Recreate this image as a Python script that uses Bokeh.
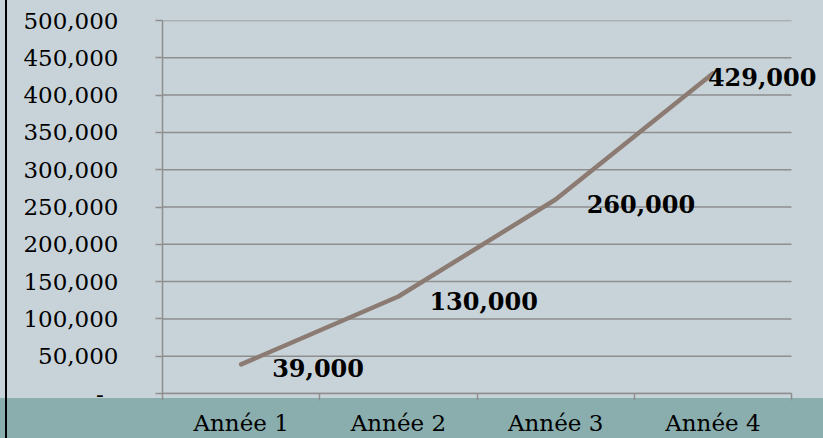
from bokeh.plotting import figure
from bokeh.models import FixedTicker, Range1d, Label
from bokeh.embed import file_html
from bokeh.resources import INLINE

# ---- data ----
categories = ["Année 1", "Année 2", "Année 3", "Année 4"]
values = [39000, 130000, 260000, 429000]
value_labels = ["39,000", "130,000", "260,000", "429,000"]
y_ticks = [0, 50000, 100000, 150000, 200000, 250000, 300000, 350000, 400000, 450000, 500000]
y_tick_labels = ["-\u00a0\u00a0", "50,000", "100,000", "150,000", "200,000", "250,000",
                 "300,000", "350,000", "400,000", "450,000", "500,000"]

# ---- style / layout ----
W, H = 823, 438
BG = "#c8d3d9"
TEAL = "#8aaeae"
GRID = "#8e8e8e"
LINE = "#8b7b72"
FONT = "DejaVu Serif"

PLOT_LEFT, PLOT_RIGHT, PLOT_TOP, PLOT_BOTTOM = 162, 791, 20, 393
BAND_TOP = 398

n = len(categories)
xs = [i + 0.5 for i in range(n)]
bounds = list(range(n + 1))
# frame runs to the right edge so the last data label is not clipped
x_end = n * (W - PLOT_LEFT) / (PLOT_RIGHT - PLOT_LEFT)

p = figure(width=W, height=H, output_backend="svg", toolbar_location=None,
           x_range=Range1d(0, x_end), y_range=Range1d(0, y_ticks[-1]),
           min_border_left=PLOT_LEFT, min_border_right=0,
           min_border_top=PLOT_TOP, min_border_bottom=H - PLOT_BOTTOM)
p.border_fill_alpha = 0
p.background_fill_alpha = 0
p.outline_line_color = None
p.styles = {
    "background": (
        f"linear-gradient(to right, transparent 5px, #000 5px, #000 7px, transparent 7px), "
        f"linear-gradient(to bottom, {BG} 0px, {BG} {BAND_TOP}px, {TEAL} {BAND_TOP}px, {TEAL} 100%)"
    )
}

# y axis
p.yaxis.ticker = FixedTicker(ticks=y_ticks)
p.yaxis.major_label_overrides = {t: l for t, l in zip(y_ticks, y_tick_labels)}
p.yaxis.axis_line_color = GRID
p.yaxis.axis_line_width = 1.5
p.yaxis.major_tick_line_color = GRID
p.yaxis.major_tick_line_width = 1.5
p.yaxis.major_tick_out = 7
p.yaxis.major_tick_in = 0
p.yaxis.minor_tick_line_alpha = 0
p.yaxis.major_label_standoff = 37
p.yaxis.major_label_text_font = FONT
p.yaxis.major_label_text_font_size = "23px"
p.yaxis.major_label_text_color = "black"

# x axis
p.xaxis.bounds = (0, n)
p.xaxis.ticker = FixedTicker(ticks=xs, minor_ticks=bounds)
p.xaxis.major_label_overrides = {x: c for x, c in zip(xs, categories)}
p.xaxis.axis_line_color = GRID
p.xaxis.axis_line_width = 1.5
p.xaxis.major_tick_out = 7
p.xaxis.major_tick_in = 0
p.xaxis.major_tick_line_alpha = 0
p.xaxis.minor_tick_out = 7
p.xaxis.minor_tick_in = 0
p.xaxis.minor_tick_line_color = GRID
p.xaxis.minor_tick_line_width = 1.5
p.xaxis.major_label_standoff = 9
p.xaxis.major_label_text_font = FONT
p.xaxis.major_label_text_font_size = "23px"
p.xaxis.major_label_text_color = "black"

# horizontal grid lines, limited to the category span
p.grid.visible = False
p.segment(x0=[0] * len(y_ticks), x1=[n] * len(y_ticks), y0=y_ticks, y1=y_ticks,
          line_color=GRID, line_width=1.5)

# line
p.line(xs, values, line_color=LINE, line_width=4.5, line_cap="round")

# data labels
label_dx = [31, 31, 31, -5]
for x, v, t, dx in zip(xs, values, value_labels, label_dx):
    p.add_layout(Label(x=x, y=v, text=t, x_offset=dx, y_offset=-4,
                       text_align="left", text_baseline="middle",
                       text_font=FONT, text_font_style="bold",
                       text_font_size="24px", text_color="black"))

open("out.html", "w").write(file_html(p, INLINE))
